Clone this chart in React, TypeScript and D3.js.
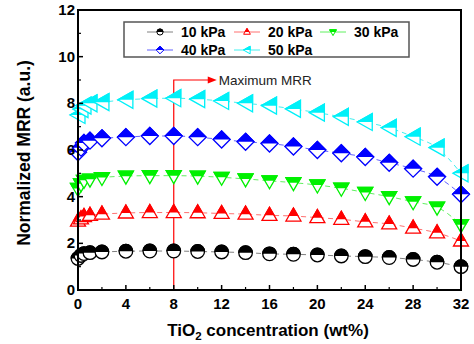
import React from "react";
import * as d3 from "d3";

const xVals = [0, 0.25, 0.5, 1, 2, 4, 6, 8, 10, 12, 14, 16, 18, 20, 22, 24, 26, 28, 30, 32];
const p10 = [1.35, 1.48, 1.56, 1.6, 1.63, 1.66, 1.67, 1.67, 1.65, 1.63, 1.6, 1.55, 1.53, 1.5, 1.46, 1.43, 1.39, 1.31, 1.19, 1.0];
const p20 = [2.95, 3.05, 3.15, 3.2, 3.25, 3.3, 3.32, 3.32, 3.31, 3.28, 3.25, 3.2, 3.17, 3.1, 3.03, 2.92, 2.83, 2.65, 2.45, 2.1];
const p30 = [4.35, 4.55, 4.7, 4.75, 4.82, 4.88, 4.9, 4.9, 4.88, 4.83, 4.76, 4.68, 4.6, 4.5, 4.36, 4.18, 4.0, 3.78, 3.55, 2.8];
const p40 = [5.9, 6.1, 6.3, 6.4, 6.5, 6.55, 6.6, 6.6, 6.55, 6.45, 6.35, 6.28, 6.15, 6.0, 5.86, 5.7, 5.45, 5.2, 4.85, 4.1];
const p50 = [7.5, 7.75, 7.9, 8.0, 8.05, 8.15, 8.2, 8.22, 8.18, 8.1, 8.0, 7.9, 7.76, 7.6, 7.42, 7.2, 6.95, 6.57, 6.1, 5.0];
const seriesNames = ["10 kPa", "20 kPa", "30 kPa", "40 kPa", "50 kPa"];
const xTicks = [0, 4, 8, 12, 16, 20, 24, 28, 32];
const yTicks = [0, 2, 4, 6, 8, 10, 12];
const maxX = 8;
const maxY = 9;

const colors = ["#000000", "#ff0000", "#00f000", "#0000ff", "#00f0f8"];
const lineColors = ["#808080", "#ff7070", "#60f060", "#6060ff", "#40f0f0"];
const shapes = ["circle", "up", "down", "diamond", "left"];

const FONT = "'Liberation Sans', Arial, sans-serif";

function shapePath(shape: string, s: number): string {
  switch (shape) {
    case "up":
      return `M0,${-8 * s}L${7.5 * s},${5 * s}L${-7.5 * s},${5 * s}Z`;
    case "down":
      return `M${-7.5 * s},${-5 * s}L${7.5 * s},${-5 * s}L0,${8 * s}Z`;
    case "diamond":
      return `M0,${-8.5 * s}L${8.5 * s},0L0,${8.5 * s}L${-8.5 * s},0Z`;
    case "left":
      return `M${-8 * s},0L${7 * s},${-8.5 * s}L${7 * s},${8.5 * s}Z`;
    default: {
      const r = 6.8 * s;
      return `M${-r},0A${r},${r} 0 1,1 ${r},0A${r},${r} 0 1,1 ${-r},0Z`;
    }
  }
}

function Marker({ x, y, shape, color, s = 1, sw = 1.3 }: any) {
  const d = shapePath(shape, s);
  return (
    <g transform={`translate(${x},${y})`}>
      <path d={d} fill="#fff" stroke={color} strokeWidth={sw} />
      <path d={d} fill={color} stroke={color} strokeWidth={sw} clipPath="url(#tophalf)" />
    </g>
  );
}

export default function App() {
  const W = 474, H = 344;
  const x = d3.scaleLinear().domain([0, 32]).range([78, 461]);
  const y = d3.scaleLinear().domain([0, 12]).range([290, 10]);
  const data = [p10, p20, p30, p40, p50];
  const line = d3.line<number>().x((_, i) => x(xVals[i])).y((d) => y(d)).curve(d3.curveMonotoneX);

  const xMinor = d3.range(2, 32, 4);
  const yMinor = d3.range(1, 12, 2);

  const legendItems = [
    { i: 0, lx: 160, ly: 32 },
    { i: 1, lx: 247, ly: 32 },
    { i: 2, lx: 333, ly: 32 },
    { i: 3, lx: 160, ly: 50 },
    { i: 4, lx: 247, ly: 50 },
  ];

  return (
    <svg width={W} height={H} style={{ position: "absolute", left: 0, top: 0, background: "#fff" }} fontFamily={FONT}>
      <defs>
        <clipPath id="tophalf">
          <rect x={-20} y={-20} width={40} height={20} />
        </clipPath>
      </defs>
      <rect x={0} y={0} width={W} height={H} fill="#fff" />

      {/* dashed lines */}
      {data.map((vals, k) => (
        <path key={"l" + k} d={line(vals) || ""} fill="none" stroke={lineColors[k]} strokeWidth={1} strokeDasharray="5,4" />
      ))}

      {/* annotation */}
      <path d={`M${x(maxX)},${y(0)}V${y(maxY)}H${x(maxX) + 36}`} fill="none" stroke="#ff0000" strokeWidth={1.2} />
      <path d={`M${x(maxX) + 43},${y(maxY)}l-9,-3.5v7Z`} fill="#ff0000" />
      <text x={x(maxX) + 45} y={y(maxY) + 4.5} fontSize={13.5} fill="#222">Maximum MRR</text>

      {/* markers */}
      {data.map((vals, k) =>
        vals.map((v, i) => (
          <Marker key={`m${k}-${i}`} x={x(xVals[i])} y={y(v)} shape={shapes[k]} color={colors[k]} />
        ))
      )}

      {/* frame */}
      <rect x={78} y={10} width={383} height={280} fill="none" stroke="#000" strokeWidth={2} />

      {/* ticks */}
      {xTicks.map((t) => (
        <g key={"xt" + t}>
          <line x1={x(t)} x2={x(t)} y1={290} y2={285} stroke="#000" strokeWidth={1.5} />
          <text x={x(t)} y={309} textAnchor="middle" fontSize={15} fontWeight="bold">{t}</text>
        </g>
      ))}
      {xMinor.map((t) => (
        <line key={"xm" + t} x1={x(t)} x2={x(t)} y1={290} y2={287} stroke="#000" strokeWidth={1.2} />
      ))}
      {yTicks.map((t) => (
        <g key={"yt" + t}>
          <line x1={78} x2={83} y1={y(t)} y2={y(t)} stroke="#000" strokeWidth={1.5} />
          <text x={75} y={y(t) + 5} textAnchor="end" fontSize={15} fontWeight="bold">{t}</text>
        </g>
      ))}
      {yMinor.map((t) => (
        <line key={"ym" + t} x1={78} x2={81} y1={y(t)} y2={y(t)} stroke="#000" strokeWidth={1.2} />
      ))}

      {/* axis titles */}
      <text transform="translate(30,153) rotate(-90)" textAnchor="middle" fontSize={17.5} fontWeight="bold">
        Normalized MRR (a.u.)
      </text>
      <text x={268} y={336} textAnchor="middle" fontSize={17} fontWeight="bold">
        TiO<tspan fontSize={11.5} dy={4}>2</tspan><tspan dy={-4}> concentration (wt%)</tspan>
      </text>

      {/* legend */}
      <rect x={124} y={22} width={285} height={35} fill="#fff" stroke="#555" strokeWidth={1.5} />
      {legendItems.map(({ i, lx, ly }) => (
        <g key={"lg" + i}>
          <line x1={lx - 13} x2={lx + 13} y1={ly} y2={ly} stroke={lineColors[i]} strokeWidth={1} />
          <Marker x={lx} y={ly} shape={shapes[i]} color={colors[i]} s={0.45} sw={1} />
          <text x={lx + 21} y={ly + 5} fontSize={14} fontWeight="bold">{seriesNames[i]}</text>
        </g>
      ))}
    </svg>
  );
}
